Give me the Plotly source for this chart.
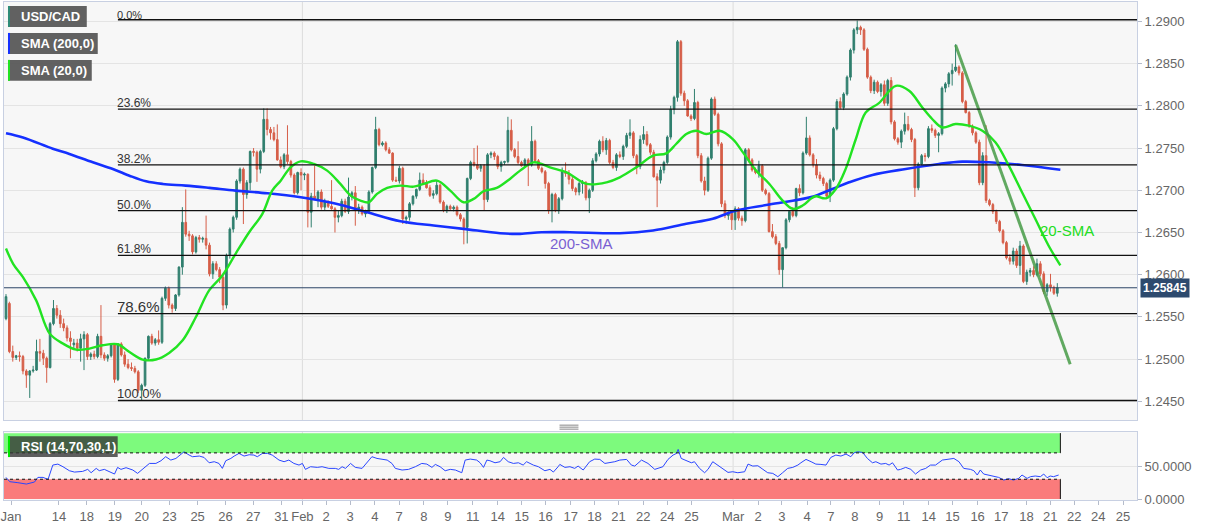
import plotly.graph_objects as go

# ---------------- data (4h candles, USD/CAD) ----------------
opens = [1.2548,1.2566,1.2509,1.2502,1.2504,1.2503,1.2486,1.2481,1.2486,1.2487,
1.2509,1.2507,1.2501,1.2490,1.2542,1.2560,1.2552,1.2542,1.2537,1.2525,
1.2517,1.2519,1.2513,1.2524,1.2529,1.2503,1.2506,1.2503,1.2527,1.2505,
1.2501,1.2504,1.2517,1.2476,1.2518,1.2505,1.2494,1.2490,1.2489,1.2485,
1.2463,1.2469,1.2501,1.2527,1.2519,1.2523,1.2520,1.2572,1.2584,1.2564,
1.2560,1.2576,1.2609,1.2662,1.2648,1.2646,1.2627,1.2644,1.2642,1.2643,
1.2635,1.2601,1.2613,1.2606,1.2597,1.2564,1.2623,1.2654,1.2668,1.2711,
1.2725,1.2695,1.2709,1.2746,1.2745,1.2725,1.2746,1.2784,1.2772,1.2768,
1.2760,1.2736,1.2728,1.2742,1.2734,1.2718,1.2697,1.2721,1.2718,1.2719,
1.2674,1.2693,1.2690,1.2698,1.2680,1.2686,1.2681,1.2678,1.2668,1.2670,
1.2687,1.2675,1.2692,1.2697,1.2676,1.2680,1.2672,1.2675,1.2698,1.2727,
1.2772,1.2754,1.2756,1.2748,1.2744,1.2712,1.2711,1.2726,1.2666,1.2668,
1.2684,1.2693,1.2701,1.2712,1.2708,1.2703,1.2694,1.2696,1.2706,1.2686,
1.2676,1.2681,1.2678,1.2680,1.2671,1.2666,1.2656,1.2714,1.2733,1.2730,
1.2726,1.2729,1.2689,1.2742,1.2744,1.2740,1.2728,1.2733,1.2734,1.2771,
1.2748,1.2740,1.2733,1.2729,1.2736,1.2730,1.2758,1.2735,1.2726,1.2722,
1.2708,1.2676,1.2695,1.2676,1.2690,1.2722,1.2720,1.2713,1.2702,1.2698,
1.2708,1.2709,1.2691,1.2700,1.2735,1.2743,1.2758,1.2748,1.2759,1.2733,
1.2727,1.2742,1.2740,1.2752,1.2765,1.2768,1.2741,1.2728,1.2760,1.2766,
1.2754,1.2745,1.2716,1.2712,1.2724,1.2733,1.2763,1.2796,1.2810,1.2876,
1.2815,1.2806,1.2788,1.2785,1.2804,1.2741,1.2711,1.2700,1.2738,1.2808,
1.2790,1.2755,1.2684,1.2670,1.2673,1.2665,1.2678,1.2667,1.2664,1.2748,
1.2736,1.2724,1.2721,1.2729,1.2700,1.2696,1.2651,1.2645,1.2637,1.2606,
1.2632,1.2665,1.2675,1.2670,1.2702,1.2697,1.2744,1.2762,1.2742,1.2730,
1.2718,1.2714,1.2708,1.2693,1.2712,1.2773,1.2805,1.2798,1.2814,1.2834,
1.2866,1.2890,1.2893,1.2890,1.2867,1.2834,1.2818,1.2828,1.2817,1.2825,
1.2803,1.2830,1.2781,1.2761,1.2757,1.2770,1.2778,1.2772,1.2760,1.2703,
1.2731,1.2741,1.2740,1.2773,1.2771,1.2765,1.2767,1.2821,1.2826,1.2838,
1.2842,1.2846,1.2839,1.2805,1.2792,1.2776,1.2768,1.2757,1.2709,1.2741,
1.2688,1.2683,1.2675,1.2663,1.2652,1.2638,1.2620,1.2616,1.2628,1.2611,
1.2634,1.2592,1.2603,1.2605,1.2600,1.2613,1.2601,1.2580,1.2588,1.2585,1.2578]

highs = [1.2577,1.2568,1.2516,1.2505,1.2509,1.2505,1.2488,1.2487,1.2492,1.2523,
1.2524,1.2511,1.2503,1.2544,1.2570,1.2564,1.2558,1.2548,1.2540,1.2533,
1.2524,1.2524,1.2530,1.2533,1.2531,1.2508,1.2510,1.2530,1.2564,1.2508,
1.2506,1.2518,1.2519,1.2519,1.2520,1.2509,1.2500,1.2496,1.2492,1.2487,
1.2471,1.2502,1.2528,1.2530,1.2525,1.2534,1.2574,1.2586,1.2586,1.2566,
1.2577,1.2610,1.2680,1.2701,1.2652,1.2648,1.2646,1.2647,1.2645,1.2670,
1.2638,1.2616,1.2616,1.2609,1.2599,1.2625,1.2656,1.2670,1.2713,1.2727,
1.2727,1.2712,1.2747,1.2750,1.2747,1.2748,1.2797,1.2797,1.2775,1.2775,
1.2778,1.2740,1.2744,1.2777,1.2736,1.2720,1.2722,1.2726,1.2721,1.2720,
1.2697,1.2729,1.2700,1.2701,1.2690,1.2688,1.2712,1.2680,1.2676,1.2690,
1.2690,1.2715,1.2699,1.2705,1.2684,1.2682,1.2677,1.2700,1.2728,1.2787,
1.2774,1.2758,1.2758,1.2751,1.2745,1.2716,1.2729,1.2728,1.2670,1.2686,
1.2694,1.2702,1.2721,1.2720,1.2712,1.2706,1.2700,1.2712,1.2708,1.2688,
1.2683,1.2683,1.2682,1.2682,1.2673,1.2668,1.2715,1.2735,1.2750,1.2753,
1.2731,1.2731,1.2744,1.2746,1.2746,1.2742,1.2735,1.2735,1.2787,1.2784,
1.2750,1.2758,1.2735,1.2738,1.2738,1.2776,1.2760,1.2737,1.2728,1.2724,
1.2710,1.2697,1.2697,1.2692,1.2727,1.2733,1.2724,1.2716,1.2704,1.2710,
1.2712,1.2711,1.2702,1.2738,1.2745,1.2760,1.2764,1.2762,1.2761,1.2736,
1.2744,1.2746,1.2754,1.2768,1.2784,1.2770,1.2743,1.2765,1.2776,1.2770,
1.2756,1.2748,1.2720,1.2728,1.2735,1.2765,1.2800,1.2812,1.2878,1.2878,
1.2818,1.2808,1.2790,1.2820,1.2806,1.2744,1.2716,1.2740,1.2810,1.2811,
1.2792,1.2757,1.2688,1.2675,1.2676,1.2681,1.2680,1.2670,1.2750,1.2750,
1.2738,1.2727,1.2735,1.2731,1.2702,1.2698,1.2660,1.2648,1.2640,1.2632,
1.2667,1.2676,1.2680,1.2703,1.2707,1.2746,1.2787,1.2765,1.2744,1.2737,
1.2722,1.2716,1.2710,1.2714,1.2775,1.2808,1.2810,1.2816,1.2836,1.2868,
1.2892,1.2901,1.2895,1.2892,1.2869,1.2836,1.2831,1.2830,1.2827,1.2830,
1.2832,1.2834,1.2783,1.2763,1.2772,1.2792,1.2788,1.2774,1.2762,1.2733,
1.2743,1.2744,1.2776,1.2778,1.2773,1.2769,1.2823,1.2828,1.2840,1.2850,
1.2873,1.2848,1.2841,1.2807,1.2794,1.2778,1.2770,1.2760,1.2745,1.2777,
1.2690,1.2685,1.2677,1.2665,1.2654,1.2640,1.2624,1.2632,1.2631,1.2640,
1.2636,1.2606,1.2608,1.2610,1.2619,1.2616,1.2604,1.2590,1.2601,1.2587,1.2590]

lows = [1.2546,1.2507,1.2497,1.2499,1.2497,1.2482,1.2466,1.2454,1.2484,1.2486,
1.2497,1.2493,1.2472,1.2489,1.2540,1.2548,1.2537,1.2533,1.2521,1.2501,
1.2511,1.2509,1.2497,1.2487,1.2499,1.2499,1.2500,1.2501,1.2501,1.2498,
1.2497,1.2502,1.2472,1.2474,1.2503,1.2491,1.2488,1.2486,1.2483,1.2460,
1.2451,1.2467,1.2499,1.2517,1.2516,1.2517,1.2518,1.2569,1.2560,1.2555,
1.2557,1.2574,1.2600,1.2645,1.2640,1.2624,1.2625,1.2638,1.2638,1.2630,
1.2598,1.2595,1.2604,1.2590,1.2558,1.2560,1.2619,1.2650,1.2665,1.2708,
1.2660,1.2690,1.2700,1.2740,1.2710,1.2720,1.2744,1.2765,1.2760,1.2758,
1.2735,1.2726,1.2725,1.2731,1.2715,1.2695,1.2695,1.2700,1.2712,1.2656,
1.2656,1.2689,1.2680,1.2677,1.2676,1.2679,1.2677,1.2650,1.2662,1.2668,
1.2673,1.2672,1.2688,1.2658,1.2672,1.2670,1.2668,1.2673,1.2696,1.2725,
1.2752,1.2752,1.2746,1.2743,1.2710,1.2710,1.2708,1.2660,1.2660,1.2664,
1.2682,1.2690,1.2699,1.2706,1.2702,1.2692,1.2690,1.2694,1.2684,1.2674,
1.2673,1.2676,1.2675,1.2669,1.2663,1.2636,1.2637,1.2712,1.2728,1.2724,
1.2722,1.2676,1.2686,1.2738,1.2736,1.2725,1.2722,1.2730,1.2732,1.2746,
1.2738,1.2731,1.2728,1.2727,1.2705,1.2728,1.2733,1.2724,1.2720,1.2702,
1.2672,1.2662,1.2674,1.2672,1.2688,1.2716,1.2707,1.2699,1.2694,1.2694,
1.2696,1.2688,1.2673,1.2698,1.2733,1.2740,1.2745,1.2742,1.2731,1.2725,
1.2723,1.2738,1.2736,1.2750,1.2761,1.2738,1.2719,1.2725,1.2755,1.2752,
1.2742,1.2715,1.2680,1.2708,1.2720,1.2731,1.2760,1.2790,1.2805,1.2812,
1.2800,1.2787,1.2782,1.2783,1.2738,1.2709,1.2694,1.2698,1.2736,1.2788,
1.2752,1.2680,1.2667,1.2665,1.2653,1.2653,1.2664,1.2658,1.2662,1.2733,
1.2722,1.2719,1.2715,1.2698,1.2694,1.2650,1.2643,1.2635,1.2600,1.2585,
1.2630,1.2662,1.2668,1.2668,1.2693,1.2695,1.2742,1.2740,1.2727,1.2714,
1.2711,1.2705,1.2690,1.2686,1.2710,1.2771,1.2796,1.2795,1.2812,1.2830,
1.2862,1.2885,1.2884,1.2865,1.2832,1.2815,1.2814,1.2815,1.2811,1.2800,
1.2800,1.2778,1.2759,1.2754,1.2750,1.2766,1.2770,1.2757,1.2692,1.2700,
1.2729,1.2734,1.2738,1.2768,1.2762,1.2745,1.2765,1.2816,1.2822,1.2824,
1.2840,1.2836,1.2803,1.2791,1.2774,1.2765,1.2755,1.2706,1.2706,1.2685,
1.2681,1.2672,1.2660,1.2650,1.2636,1.2618,1.2612,1.2612,1.2608,1.2600,
1.2590,1.2588,1.2598,1.2597,1.2598,1.2598,1.2577,1.2575,1.2580,1.2576,1.2574]

closes = [1.2574,1.2509,1.2502,1.2504,1.2503,1.2486,1.2481,1.2486,1.2487,1.2509,
1.2507,1.2501,1.2490,1.2542,1.2560,1.2552,1.2542,1.2537,1.2525,1.2521,
1.2519,1.2513,1.2524,1.2529,1.2503,1.2506,1.2503,1.2527,1.2505,1.2501,
1.2504,1.2517,1.2476,1.2518,1.2505,1.2494,1.2490,1.2489,1.2485,1.2463,
1.2469,1.2501,1.2527,1.2519,1.2523,1.2520,1.2572,1.2584,1.2564,1.2560,
1.2576,1.2609,1.2662,1.2648,1.2646,1.2627,1.2644,1.2642,1.2643,1.2635,
1.2601,1.2613,1.2606,1.2597,1.2564,1.2623,1.2654,1.2668,1.2711,1.2725,
1.2695,1.2709,1.2746,1.2745,1.2725,1.2746,1.2784,1.2772,1.2768,1.2760,
1.2736,1.2728,1.2742,1.2734,1.2718,1.2697,1.2721,1.2718,1.2719,1.2674,
1.2693,1.2690,1.2698,1.2680,1.2686,1.2681,1.2678,1.2668,1.2670,1.2687,
1.2675,1.2692,1.2697,1.2676,1.2680,1.2672,1.2675,1.2698,1.2727,1.2772,
1.2754,1.2756,1.2748,1.2744,1.2712,1.2711,1.2726,1.2666,1.2668,1.2684,
1.2693,1.2701,1.2712,1.2708,1.2703,1.2694,1.2696,1.2706,1.2686,1.2676,
1.2681,1.2678,1.2680,1.2671,1.2666,1.2656,1.2714,1.2733,1.2730,1.2726,
1.2729,1.2689,1.2742,1.2744,1.2740,1.2728,1.2733,1.2734,1.2771,1.2748,
1.2740,1.2733,1.2729,1.2736,1.2730,1.2758,1.2735,1.2726,1.2722,1.2708,
1.2676,1.2695,1.2676,1.2690,1.2722,1.2720,1.2713,1.2702,1.2698,1.2708,
1.2709,1.2691,1.2700,1.2735,1.2743,1.2758,1.2748,1.2759,1.2733,1.2727,
1.2742,1.2740,1.2752,1.2765,1.2768,1.2741,1.2728,1.2760,1.2766,1.2754,
1.2745,1.2716,1.2712,1.2724,1.2733,1.2763,1.2796,1.2810,1.2876,1.2815,
1.2806,1.2788,1.2785,1.2804,1.2741,1.2711,1.2700,1.2738,1.2808,1.2790,
1.2755,1.2684,1.2670,1.2673,1.2665,1.2678,1.2667,1.2664,1.2748,1.2736,
1.2724,1.2721,1.2729,1.2700,1.2696,1.2651,1.2645,1.2637,1.2606,1.2632,
1.2665,1.2675,1.2670,1.2702,1.2697,1.2744,1.2762,1.2742,1.2730,1.2718,
1.2714,1.2708,1.2693,1.2712,1.2773,1.2805,1.2798,1.2814,1.2834,1.2866,
1.2890,1.2893,1.2890,1.2867,1.2834,1.2818,1.2828,1.2817,1.2825,1.2803,
1.2830,1.2781,1.2761,1.2757,1.2770,1.2778,1.2772,1.2760,1.2703,1.2731,
1.2741,1.2740,1.2773,1.2771,1.2765,1.2767,1.2821,1.2826,1.2838,1.2842,
1.2846,1.2839,1.2805,1.2792,1.2776,1.2768,1.2757,1.2709,1.2741,1.2688,
1.2683,1.2675,1.2663,1.2652,1.2638,1.2620,1.2616,1.2628,1.2611,1.2634,
1.2592,1.2603,1.2605,1.2600,1.2613,1.2601,1.2580,1.2588,1.2585,1.2578,1.25845]

# 200-period SMA (read at candle positions)
sma200_idx = [0,5,13.8,18.7,25.6,31.5,36.4,41.3,46.2,53,60,67.7,77.1,86.9,96.7,106.5,116.3,126.1,
              134.9,145.7,151.6,157.9,166.3,181,190.8,200.6,208.4,215.3,225.1,237.4,243.7,248.6,
              255.5,265.3,275.1,282,289.8,299.6,310.9]
sma200_val = [1.27676,1.27626,1.27493,1.27430,1.27331,1.27253,1.27173,1.27106,1.27075,1.27055,
              1.27028,1.26996,1.26964,1.26917,1.26846,1.26740,1.26633,1.26582,1.26543,1.26491,
              1.26484,1.26503,1.26503,1.26491,1.26523,1.26603,1.26662,1.26760,1.26831,1.26919,
              1.27016,1.27094,1.27182,1.27253,1.27312,1.27339,1.27331,1.27300,1.27244]

# 20-period SMA
sma20_idx = [0,2.1,5,8.9,12.9,16.8,20.7,24.6,28.5,32.9,36.4,40.3,44.2,48.1,52.1,56,59.9,63.8,67.7,
             71.7,75.6,78.5,81,83.9,86.9,90.8,94.7,98.6,101.6,104.5,107,109.4,112.4,116.3,120.2,
             123.1,127.1,131,134.9,137.9,140.8,144.7,148.6,151.6,155.5,157.9,160.4,165.3,171.2,
             177.1,181,185.9,190.8,194.7,197.6,200.6,203.5,206.5,210.4,214.3,217.3,221.2,225.1,
             229,232,234.9,237.4,238.8,241.8,244.7,247.6,250.6,253.5,257.4,262.4,266.3,270.2,
             273.1,276.1,280,283.9,287.9,291.8,295.7,299.6,303.5,307.4,310.9]
sma20_val = [1.26311,1.26129,1.25971,1.25696,1.25302,1.25184,1.25113,1.25125,1.25164,1.25176,
             1.25085,1.24995,1.24995,1.25073,1.25223,1.25499,1.25814,1.25991,1.26248,1.26503,
             1.26721,1.26996,1.27114,1.27272,1.27342,1.27312,1.27233,1.27075,1.26937,1.26878,
             1.26858,1.26957,1.27028,1.27055,1.27043,1.27075,1.27114,1.26996,1.26858,1.26898,
             1.26988,1.27028,1.27134,1.27233,1.27331,1.27312,1.27272,1.27212,1.27075,1.27094,
             1.27153,1.27272,1.27410,1.27437,1.27548,1.27666,1.27705,1.27666,1.27705,1.27607,
             1.27449,1.27233,1.27075,1.26878,1.26780,1.26819,1.26902,1.26929,1.26905,1.27016,
             1.27253,1.27607,1.27922,1.28033,1.28237,1.28178,1.27981,1.27844,1.27744,1.27785,
             1.27765,1.27705,1.27567,1.27292,1.26976,1.26662,1.26346,1.26110]

# hand-drawn down trend line
trend_idx = [280, 313.8]
trend_val = [1.2872, 1.2494]

# Fibonacci retracement
fib_labels = ["0.0%", "23.6%", "38.2%", "50.0%", "61.8%", "78.6%", "100.0%"]
fib_levels = [1.2902, 1.2796, 1.2730, 1.2676, 1.2623, 1.2554, 1.2451]
fib_font = [11, 12, 12, 12, 12, 15, 13]
FIB_START = 33

# RSI (14)
rsi_idx = [0,1.1,3.5,6,8.4,9.4,10.9,12.4,13.8,15.3,16.8,18.7,20.2,22.6,24.1,25.1,26.6,27.5,29,30.5,
           32,32.9,33.9,35.4,37.4,38.8,40.3,42.3,44.2,45.7,47.1,48.6,50.1,52.5,54,55,57,58.4,59.9,
           61.4,62.8,63.8,64.8,66.3,67.3,68.7,70.2,71.7,73.1,74.1,75.6,77.1,78.5,80.5,82,83.4,84.9,
           86.4,87.4,88.3,89.8,91.8,93.2,95.2,97.1,98.1,99.1,100.1,101.6,103,105,106.5,107.9,109.4,
           110.9,112.4,113.8,114.8,116.8,118.7,120.7,122.6,124.1,125.6,126.6,128,129.5,131,132.5,
           133.9,134.4,135.4,136.9,138.8,139.8,140.8,141.8,142.7,144.2,145.7,146.7,148.1,149.6,
           151.1,152.5,153.5,155.5,157,158.9,160.4,161.4,162.8,163.3,164.8,166.3,167.7,168.7,170.2,
           172.1,173.6,175.1,176.6,178,179.5,181,183,184.4,185.4,187.4,189.3,191.3,192.8,193.7,
           195.2,196.7,197.7,198.2,199.1,200.6,202.1,203,204.5,206,207,208.4,209.9,211.4,212.9,
           214.3,215.8,217.8,218.8,220.2,221.7,223.2,224.6,226.1,227.6,229,230.5,232,233.5,234.4,
           235.9,237.4,238.8,240.3,241.8,243.2,244.7,246.2,247.7,249.1,250.1,251.1,252.6,254,
           255.5,256.5,258,259.4,260.4,261.4,262.9,263.8,265.3,266.8,268.2,269.7,271.2,272.6,
           274.1,276.1,278,279.5,281,282.4,284.4,285.4,286.4,287.3,288.3,289.8,291.2,292.7,294.2,
           295.7,297.1,298.6,299.6,301.1,302.1,303.5,305,306,307,307.9,308.9,310.4]
rsi_val = [32.8,26.3,24.8,22.7,25.8,32.8,32.8,29.8,51.5,53,49,42.9,40.9,41.9,45,39.9,46.5,43,45,41.4,
           37.9,48,45,47.5,44,38.9,45,54,54,58.1,64.2,59.1,61.6,71.7,66.7,64.2,65.2,63.1,55,
           56.6,54,46.5,58.1,61.6,65.2,69.2,65.2,67.2,66.7,64.2,69.2,69.2,66.7,59.1,56.6,59.1,54,
           51.5,54,45,49,48,49,46.5,46.5,45,49,46.5,54,48,46.5,55,64.2,61.6,
           60.1,59.1,54,46.5,44,45,49,54,53,48,52.5,49,42.9,45,44,
           41.4,39.9,59.1,60.6,59.1,55,48,59.1,58.1,55,56.6,63.1,56.6,54,
           55,51.5,56.6,51.5,49,42.9,45,40.9,49,52.5,48,49,46.5,50,44,
           56.6,60.6,60.1,54,55,56.6,59.1,60.1,51.5,50,59.1,54,45,48,49,
           60.1,66.7,69.2,75.3,61.6,58.1,55,56.6,46.5,39.9,45,56.6,51.5,46.5,40.4,
           41.4,39.9,41.4,53,50,50.5,45,39.9,38.9,33.9,39.9,46.5,48,51.5,55,
           60.1,56.6,53,52.5,51.5,63.1,66.7,65.2,68.2,64.2,70.2,71.7,70.7,61.6,
           55,56.6,53,54,51.5,55,44,45,48,45,37.9,44,46.5,51.5,
           51.5,59.1,60.1,61.6,56.6,46.5,45,42.9,36.4,44,37.9,36.4,33.9,32.8,28.8,
           30.8,28.8,31.3,36.4,31.3,33.9,34.9,33.9,37.9,32.3,34.9,33.9,36.4]
rsi_upper = 70
rsi_lower = 30

# x-axis date labels and their candle positions
tick_labels = ["Jan","14","18","19","20","23","25","26","27","31","Feb","2","3","4","7","8","9","11",
               "14","15","16","17","18","21","22","24","25","Mar","2","3","4","7","8","9","11","14",
               "15","16","17","18","21","22","24","25"]
tick_pos = [1.5,15.6,23.8,32.1,40,48.2,56.5,64.7,72.9,81.2,87.4,94.4,101.5,108.8,115.9,123.2,130.3,
            137.6,145,152.1,159.1,166.5,173.5,180.6,187.9,195,202.1,214.4,221.8,228.8,236.2,243.2,
            250.3,257.6,264.7,272.1,279.1,286.5,293.5,300.9,307.9,315,322.1,329.4]
month_marks = ["Feb", "Mar"]

# ---------------- figure ----------------
UP = "#307f6e"
DN = "#d65e48"
FONT = "Liberation Sans, Arial, sans-serif"
XR = [-0.59, 333.5]
n = len(closes)
idx = list(range(n))
band_end = n - 1 + 0.9

def PX(p):
    return (p - 1) / 1136.0

def PY(p):
    return (500 - p) / 499.0

fig = go.Figure()
fig.add_trace(go.Candlestick(
    x=idx, open=opens, high=highs, low=lows, close=closes,
    increasing=dict(line=dict(color=UP, width=1), fillcolor=UP),
    decreasing=dict(line=dict(color=DN, width=1), fillcolor=DN),
    whiskerwidth=0, showlegend=False, xaxis="x", yaxis="y"))
fig.add_trace(go.Scatter(x=sma200_idx, y=sma200_val, mode="lines", showlegend=False,
                         line=dict(color="#1530ff", width=2.6, shape="spline")))
fig.add_trace(go.Scatter(x=sma20_idx, y=sma20_val, mode="lines", showlegend=False,
                         line=dict(color="#22e322", width=2.4, shape="spline")))
fig.add_trace(go.Scatter(x=trend_idx, y=trend_val, mode="lines", showlegend=False,
                         line=dict(color="rgba(70,155,70,0.85)", width=3)))
fig.add_trace(go.Scatter(x=rsi_idx, y=rsi_val, mode="lines", showlegend=False,
                         xaxis="x2", yaxis="y2", line=dict(color="#2a46ff", width=1)))

shapes = []
annotations = []

# fib lines + labels
for lab, lev, fs in zip(fib_labels, fib_levels, fib_font):
    shapes.append(dict(type="line", xref="x", yref="y", x0=FIB_START, x1=XR[1], y0=lev, y1=lev,
                       line=dict(color="#111111", width=1.3), layer="above"))
    annotations.append(dict(x=FIB_START, y=lev, xref="x", yref="y", text=lab, showarrow=False,
                            xanchor="left", yanchor="bottom", xshift=-3, yshift=-3,
                            font=dict(family=FONT, size=fs, color="#333333")))

# last price line
last = closes[-1]
shapes.append(dict(type="line", xref="x", yref="y", x0=XR[0], x1=XR[1], y0=last, y1=last,
                   line=dict(color="#2b4466", width=1), layer="above"))
annotations.append(dict(x=1, y=last, xref="paper", yref="y", text="<b>1.25845</b>", showarrow=False,
                        xanchor="left", xshift=3, bgcolor="#2d4a6e", borderpad=2,
                        font=dict(family=FONT, size=12, color="white")))

# month gridlines
for m in month_marks:
    p = tick_pos[tick_labels.index(m)]
    for yr in ("y domain", "y2 domain"):
        shapes.append(dict(type="line", xref="x", yref=yr, x0=p, x1=p, y0=0, y1=1,
                           line=dict(color="#dcdcdc", width=1), layer="below"))

# RSI bands
shapes.append(dict(type="rect", xref="x2", yref="y2", x0=XR[0], x1=band_end, y0=rsi_upper, y1=100,
                   fillcolor="#7dfa7d", line=dict(width=0), layer="below"))
shapes.append(dict(type="rect", xref="x2", yref="y2", x0=XR[0], x1=band_end, y0=0, y1=rsi_lower,
                   fillcolor="#fa7b7b", line=dict(width=0), layer="below"))
for lv in (rsi_upper, rsi_lower):
    shapes.append(dict(type="line", xref="x2", yref="y2", x0=XR[0], x1=band_end, y0=lv, y1=lv,
                       line=dict(color="#111111", width=1, dash="dot")))
shapes.append(dict(type="line", xref="x2", yref="y2", x0=band_end, x1=band_end, y0=rsi_upper, y1=100,
                   line=dict(color="#111111", width=1)))
shapes.append(dict(type="line", xref="x2", yref="y2", x0=band_end, x1=band_end, y0=0, y1=rsi_lower,
                   line=dict(color="#111111", width=1)))

# legend boxes (top-left)
boxes = [("USD/CAD", 5, 84, 5, 26, "#2e8b78"),
         ("SMA (200,0)", 5, 95, 32, 53, "#1530ff"),
         ("SMA (20,0)", 5, 89, 59, 80, "#22e322")]
for txt, x0, x1, y0, y1, c in boxes:
    shapes.append(dict(type="rect", xref="paper", yref="paper", x0=PX(x0), x1=PX(x1), y0=PY(y1), y1=PY(y0),
                       fillcolor="rgba(88,88,88,0.95)", line=dict(width=0), layer="above"))
    shapes.append(dict(type="rect", xref="paper", yref="paper", x0=PX(x0), x1=PX(x0 + 2), y0=PY(y1), y1=PY(y0),
                       fillcolor=c, line=dict(width=0), layer="above"))
    annotations.append(dict(x=PX(16), y=PY((y0 + y1) / 2), xref="paper", yref="paper", text="<b>%s</b>" % txt,
                            showarrow=False, xanchor="left", yanchor="middle",
                            font=dict(family=FONT, size=13, color="white")))
# RSI legend box
shapes.append(dict(type="rect", xref="paper", yref="paper", x0=PX(5), x1=PX(115), y0=PY(457), y1=PY(436),
                   fillcolor="rgba(55,55,55,0.8)", line=dict(width=0), layer="above"))
shapes.append(dict(type="rect", xref="paper", yref="paper", x0=PX(5), x1=PX(7), y0=PY(457), y1=PY(436),
                   fillcolor="#00e600", line=dict(width=0), layer="above"))
annotations.append(dict(x=PX(16), y=PY(446.5), xref="paper", yref="paper", text="<b>RSI (14,70,30,1)</b>",
                        showarrow=False, xanchor="left", yanchor="middle",
                        font=dict(family=FONT, size=13, color="white")))

# panel grip
for gy in (425, 427, 429):
    shapes.append(dict(type="line", xref="paper", yref="paper", x0=PX(558), x1=PX(577), y0=PY(gy), y1=PY(gy),
                       line=dict(color="#888888", width=1)))

# text labels on chart
annotations.append(dict(x=169.7, y=1.2637, xref="x", yref="y", text="200-SMA", showarrow=False,
                        font=dict(family=FONT, size=15, color="#7a5fd2")))
annotations.append(dict(x=312.8, y=1.2652, xref="x", yref="y", text="20-SMA", showarrow=False,
                        font=dict(family=FONT, size=15, color="#22dd22")))

axis_line = "#c8d0e2"
fig.update_layout(
    width=1207, height=526,
    margin=dict(l=1, r=70, t=1, b=26),
    paper_bgcolor="white", plot_bgcolor="#f7f7f7",
    hovermode=False, showlegend=False,
    font=dict(family=FONT, size=13, color="#666666"),
    xaxis=dict(domain=[0, 1], anchor="y", range=XR, showticklabels=False, showgrid=False,
               zeroline=False, rangeslider=dict(visible=False), showline=True, mirror=True,
               linecolor=axis_line, ticks=""),
    yaxis=dict(domain=[PY(420), 1], anchor="x", side="right", range=[1.24277, 1.2923],
               tick0=1.245, dtick=0.005, tickformat=".4f", gridcolor="#e4e4e4", zeroline=False,
               showline=True, mirror=True, linecolor=axis_line, ticks="outside", ticklen=4,
               tickcolor="#b5bccb", tickfont=dict(size=13, color="#666666")),
    xaxis2=dict(domain=[0, 1], anchor="y2", matches="x", range=XR, tickmode="array",
                tickvals=tick_pos, ticktext=tick_labels, showgrid=False, zeroline=False,
                showline=True, mirror=True, linecolor=axis_line, ticks="outside", ticklen=4,
                ticklabeloverflow="allow",
                tickcolor="#b5bccb", tickfont=dict(size=13, color="#666666")),
    yaxis2=dict(domain=[0, PY(432)], anchor="x2", side="right", range=[-1.5, 101.5],
                tickmode="array", tickvals=[0, 50], ticktext=["0.0000", "50.0000"],
                gridcolor="#e4e4e4", zeroline=False, showline=True, mirror=True, linecolor=axis_line,
                ticks="outside", ticklen=4, tickcolor="#b5bccb", tickfont=dict(size=13, color="#666666")),
    shapes=shapes, annotations=annotations,
)

fig.write_html("out.html", config={"displayModeBar": False},
               post_script="document.body.style.margin='0px';document.body.style.padding='0px';document.body.style.overflow='hidden';")
